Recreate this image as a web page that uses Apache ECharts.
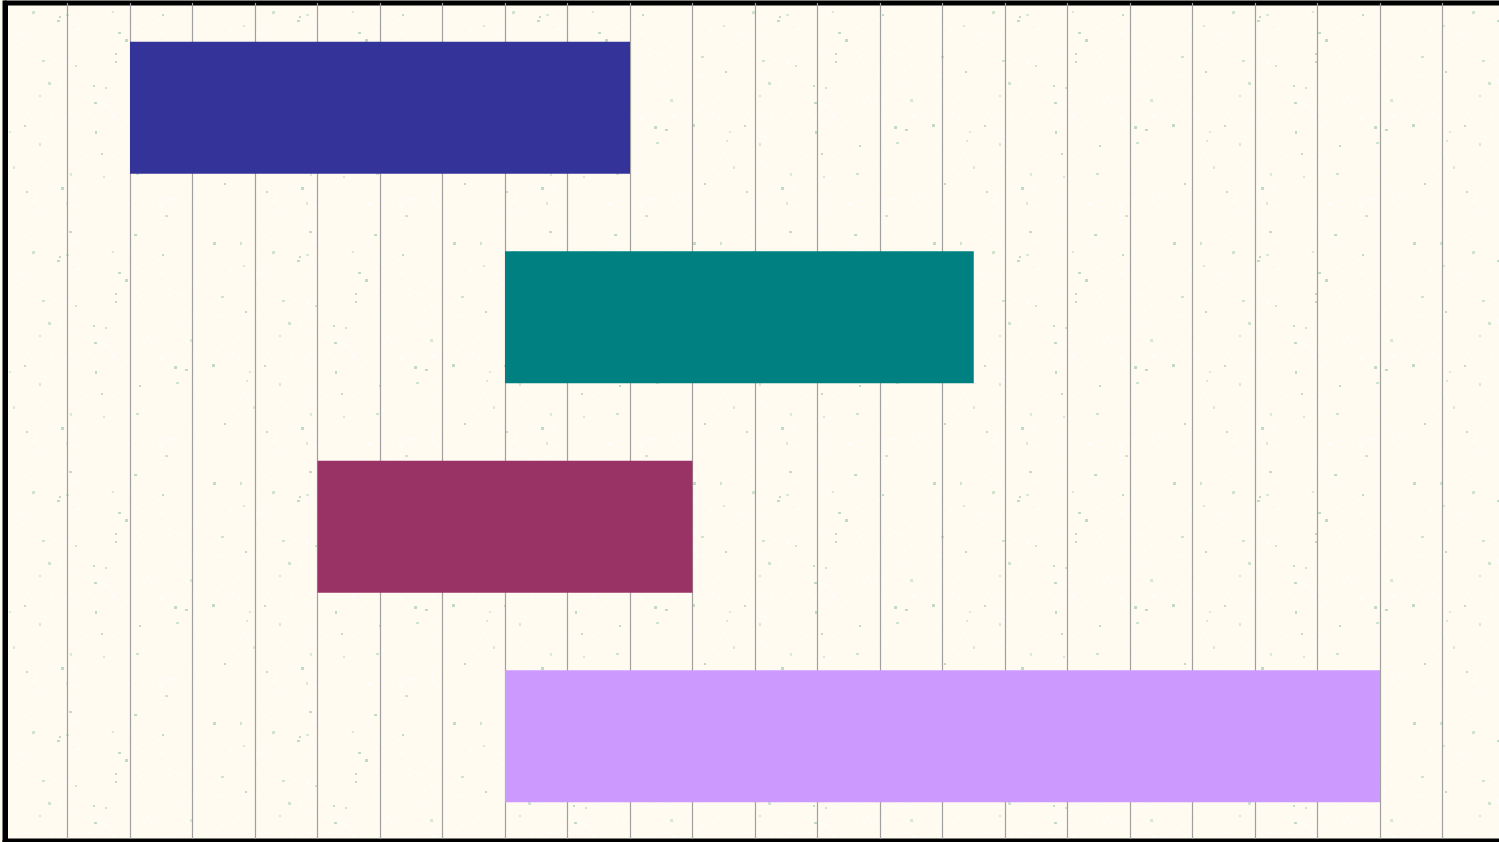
<!DOCTYPE html>
<html>
<head>
<meta charset="utf-8">
<script src="https://cdn.jsdelivr.net/npm/echarts@6/dist/echarts.min.js"></script>
<style>
html,body{margin:0;padding:0;background:#fffbf1;overflow:hidden;}
#chart{width:1510px;height:842px;}
</style>
</head>
<body>
<div id="chart"></div>
<script>
// Data
var tasks = ['Task 1', 'Task 2', 'Task 3', 'Task 4'];
var startValues = [2, 8, 5, 8];
var endValues = [10, 15.5, 11, 22];
var barColors = ['#333399', '#008080', '#993366', '#cc99ff'];

var durations = endValues.map(function (e, i) { return e - startValues[i]; });

// decorative speckled paper texture (deterministic)
function makeTexture() {
  var c = document.createElement('canvas');
  c.width = 240; c.height = 240;
  var ctx = c.getContext('2d');
  ctx.fillStyle = '#fffbf1';
  ctx.fillRect(0, 0, 240, 240);
  var seed = 12345;
  function rnd() { seed = (seed * 1103515245 + 12345) % 2147483648; return seed / 2147483648; }
  for (var i = 0; i < 300; i++) {
    ctx.fillStyle = 'rgba(255,255,255,0.8)';
    ctx.fillRect(Math.floor(rnd() * 240), Math.floor(rnd() * 240), 2, 2);
  }
  for (var j = 0; j < 45; j++) {
    var r = rnd();
    ctx.fillStyle = r > 0.66 ? '#c2dcc2' : (r > 0.33 ? '#cfe4cc' : '#d8ead4');
    var w = rnd() > 0.6 ? 3 : 2;
    var h = rnd() > 0.7 ? 3 : 2;
    ctx.fillRect(Math.floor(rnd() * 240), Math.floor(rnd() * 240), w, h);
  }
  return c;
}

var chart = echarts.init(document.getElementById('chart'));
chart.setOption({
  animation: false,
  backgroundColor: '#fffbf1',
  grid: {
    left: 5, top: 3, right: 5, bottom: 1,
    show: true,
    backgroundColor: { image: makeTexture(), repeat: 'repeat' },
    borderColor: '#000', borderWidth: 5
  },
  xAxis: {
    type: 'value', min: 0, max: 24, interval: 1,
    axisLabel: { show: false },
    axisTick: { show: false },
    axisLine: { show: true, lineStyle: { color: '#000', width: 5 } },
    splitLine: { show: true, lineStyle: { color: '#a0a0a0', width: 1.2 } }
  },
  yAxis: {
    type: 'category', data: tasks, inverse: true,
    axisLabel: { show: false },
    axisTick: { show: false },
    axisLine: { show: true, lineStyle: { color: '#000', width: 5 } },
    splitLine: { show: false }
  },
  series: [
    {
      type: 'bar', stack: 'g', data: startValues, barWidth: '63%',
      itemStyle: { color: 'transparent' }, silent: true
    },
    {
      type: 'bar', stack: 'g', barWidth: '63%',
      data: durations.map(function (d, i) {
        return { value: d, itemStyle: { color: barColors[i] } };
      })
    }
  ]
});
</script>
</body>
</html>
